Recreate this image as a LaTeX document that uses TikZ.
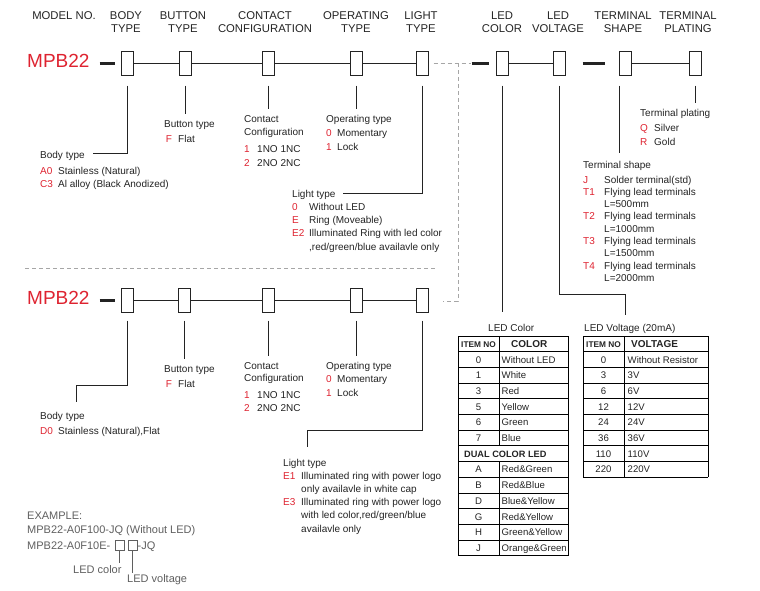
\documentclass[tikz,border=0pt]{standalone}
\usepackage{fontspec}
\setmainfont{Liberation Sans}
\usetikzlibrary{positioning,calc}
\definecolor{mpbred}{RGB}{222,35,48}
\definecolor{ink}{RGB}{35,35,35}
\definecolor{exgray}{RGB}{95,95,95}
\newcommand{\cd}[1]{\textcolor{mpbred}{#1}}
\newcommand{\hdtwo}[2]{\begin{tabular}[t]{@{}c@{}}#1\\#2\end{tabular}}

\begin{document}
\begin{tikzpicture}[
  x=1pt, y=1pt,
  font=\fontsize{10}{13}\selectfont,
  text=ink,
  hdr/.style={anchor=base, inner sep=0pt, font=\fontsize{11.3}{13}\selectfont},
  model/.style={anchor=west, inner sep=0pt, text=mpbred, font=\fontsize{19}{22}\selectfont},
  pbox/.style={draw=ink, line width=1pt, minimum width=12pt, minimum height=24pt, inner sep=0pt},
  link/.style={draw=ink, line width=0.9pt},
  heavy/.style={draw=ink, line width=3pt},
  guide/.style={draw=black!35, line width=0.8pt, dash pattern=on 4pt off 3pt},
  blk/.style={anchor=base west, inner sep=0pt},
  grid/.style={draw=black, line width=0.9pt},
  cell/.style={inner sep=0pt, anchor=base, font=\fontsize{9.6}{12}\selectfont},
  celll/.style={inner sep=0pt, anchor=base west, font=\fontsize{9.6}{12}\selectfont},
  exmp/.style={anchor=base west, inner sep=0pt, text=exgray, font=\fontsize{11}{14.7}\selectfont},
  exbox/.style={draw=exgray, line width=0.8pt, minimum width=9pt, minimum height=10pt, inner sep=0pt},
  exlink/.style={draw=exgray, line width=0.8pt}
]
\useasboundingbox (0,0) rectangle (760,-590);

% column headings
\node[hdr] (hModel) at (64,-19.8) {MODEL NO.};
\node[hdr] (hBody) at (126,-19.8) {\hdtwo{BODY}{TYPE}};
\node[hdr] (hButton) at (183,-19.8) {\hdtwo{BUTTON}{TYPE}};
\node[hdr] (hContact) at (265,-19.8) {\hdtwo{CONTACT}{CONFIGURATION}};
\node[hdr] (hOper) at (356,-19.8) {\hdtwo{OPERATING}{TYPE}};
\node[hdr] (hLight) at (421,-19.8) {\hdtwo{LIGHT}{TYPE}};
\node[hdr] (hColor) at (502,-19.8) {\hdtwo{LED}{COLOR}};
\node[hdr] (hVolt) at (558,-19.8) {\hdtwo{LED}{VOLTAGE}};
\node[hdr] (hShape) at (623,-19.8) {\hdtwo{TERMINAL}{SHAPE}};
\node[hdr] (hPlate) at (688,-19.8) {\hdtwo{TERMINAL}{PLATING}};

% first row
\node[model] (mpbA) at (27,-60.5) {MPB22};
\foreach \n/\x in {body/127,button/185,contact/268,oper/356,light/422,color/502,volt/559,shape/625,plate/695}
  \node[pbox] (a\n) at (\x,-63) {};
\draw[heavy] ([xshift=10pt]mpbA.east |- abody.west) -- ([xshift=-6pt]abody.west);
\draw[link] (abody) -- (abutton) -- (acontact) -- (aoper) -- (alight);
\draw[guide] ([xshift=5pt]alight.east) -- ([xshift=-25pt]acolor.west);
\draw[heavy] ([xshift=-24pt]acolor.west) -- ([xshift=-7pt]acolor.west);
\draw[link] (acolor) -- (avolt);
\draw[heavy] ([xshift=17pt]avolt.east) -- ([xshift=-14pt]ashape.west);
\draw[link] (ashape) -- (aplate);

% first row legends
\node[blk] (bodyA) at (40,-158) {\begin{tabular}[t]{@{}p{18pt}@{}l@{}}
  \multicolumn{2}{@{}l@{}}{Body type}\\[3pt]
  \cd{A0} & Stainless (Natural)\\
  \cd{C3} & Al alloy (Black Anodized)
\end{tabular}};
\node[blk] (buttonA) at (164,-127) {\begin{tabular}[t]{@{}p{14pt}@{}l@{}}
  \multicolumn{2}{@{}l@{}}{Button type}\\[2pt]
  \cd{\,F} & Flat
\end{tabular}};
\node[blk] (contactA) at (244,-122) {\begin{tabular}[t]{@{}p{13pt}@{}l@{}}
  \multicolumn{2}{@{}l@{}}{Contact}\\
  \multicolumn{2}{@{}l@{}}{Configuration}\\[4pt]
  \cd{1} & 1NO 1NC\\[1pt]
  \cd{2} & 2NO 2NC
\end{tabular}};
\node[blk] (operA) at (326,-122) {\begin{tabular}[t]{@{}p{11pt}@{}l@{}}
  \multicolumn{2}{@{}l@{}}{Operating type}\\[1pt]
  \cd{0} & Momentary\\[1pt]
  \cd{1} & Lock
\end{tabular}};
\node[blk, font=\fontsize{10}{13.3}\selectfont] (lightA) at (292,-197) {\begin{tabular}[t]{@{}p{17pt}@{}l@{}}
  \multicolumn{2}{@{}l@{}}{Light type}\\
  \cd{0} & Without LED\\
  \cd{E} & Ring (Moveable)\\
  \cd{E2} & Illuminated Ring with led color\\
  & ,red/green/blue availavle only
\end{tabular}};
\node[blk] (plateA) at (640,-116) {\begin{tabular}[t]{@{}p{14pt}@{}l@{}}
  \multicolumn{2}{@{}l@{}}{Terminal plating}\\[2pt]
  \cd{Q} & Silver\\[1pt]
  \cd{R} & Gold
\end{tabular}};
\node[blk, font=\fontsize{10}{12.3}\selectfont] (shapeA) at (583,-168) {\begin{tabular}[t]{@{}p{21pt}@{}l@{}}
  \multicolumn{2}{@{}l@{}}{Terminal shape}\\[2.7pt]
  \cd{J} & Solder terminal(std)\\
  \cd{T1} & Flying lead terminals\\
  & L=500mm\\
  \cd{T2} & Flying lead terminals\\
  & L=1000mm\\
  \cd{T3} & Flying lead terminals\\
  & L=1500mm\\
  \cd{T4} & Flying lead terminals\\
  & L=2000mm
\end{tabular}};

% first row leaders
\coordinate (aBodyEnd) at (93,-153);
\coordinate (aLightEnd) at (343,-193);
\coordinate (colorEnd) at (502,-312);
\coordinate (voltBend) at (625,-294);
\coordinate (voltEnd) at (625,-315);
\coordinate (termEnd) at (619.5,-153);
\draw[link] ([yshift=-10pt]abody.south) |- (aBodyEnd);
\draw[link] ([yshift=-10pt]abutton.south) -- ([yshift=4pt]abutton.south |- buttonA.north);
\draw[link] ([yshift=-10pt]acontact.south) -- ([yshift=4pt]acontact.south |- contactA.north);
\draw[link] ([yshift=-10pt]aoper.south) -- ([yshift=4pt]aoper.south |- operA.north);
\draw[link] ([yshift=-10pt]alight.south) |- (aLightEnd);
\draw[link] ([yshift=-10pt]acolor.south) -- (colorEnd);
\draw[link] ([yshift=-10pt]avolt.south) |- (voltBend) -- (voltEnd);
\draw[link] (termEnd |- ashape.south) ++(0,-10) -- (termEnd);
\draw[link] ([yshift=-10pt]aplate.south) -- ([yshift=4pt]aplate.south |- plateA.north);

% second row
\node[model] (mpbB) at (27,-297.5) {MPB22};
\foreach \n/\x in {body/127,button/184.5,contact/268,oper/356,light/422.5}
  \node[pbox] (b\n) at (\x,-300) {};
\draw[heavy] ([xshift=10pt]mpbB.east |- bbody.west) -- ([xshift=-6pt]bbody.west);
\draw[link] (bbody) -- (bbutton) -- (bcontact) -- (boper) -- (blight);

% link between the rows
\coordinate (dk) at (458,-63);
\coordinate (dkLow) at (458,-301);
\draw[guide] (dk) -- (dkLow) -- ([xshift=14pt]blight.east |- dkLow);
\draw[guide] (25,-268) -- (436,-268);

\node[blk] (bodyB) at (40,-419) {\begin{tabular}[t]{@{}p{18pt}@{}l@{}}
  \multicolumn{2}{@{}l@{}}{Body type}\\[2pt]
  \cd{D0} & Stainless (Natural),Flat
\end{tabular}};
\node[blk] (buttonB) at (164,-372) {\begin{tabular}[t]{@{}p{14pt}@{}l@{}}
  \multicolumn{2}{@{}l@{}}{Button type}\\[2pt]
  \cd{\,F} & Flat
\end{tabular}};
\node[blk] (contactB) at (244,-369) {\begin{tabular}[t]{@{}p{13pt}@{}l@{}}
  \multicolumn{2}{@{}l@{}}{Contact}\\[-0.5pt]
  \multicolumn{2}{@{}l@{}}{Configuration}\\[4pt]
  \cd{1} & 1NO 1NC\\
  \cd{2} & 2NO 2NC
\end{tabular}};
\node[blk] (operB) at (326,-369) {\begin{tabular}[t]{@{}p{11pt}@{}l@{}}
  \multicolumn{2}{@{}l@{}}{Operating type}\\
  \cd{0} & Momentary\\[1pt]
  \cd{1} & Lock
\end{tabular}};
\node[blk, font=\fontsize{10}{13.2}\selectfont] (lightB) at (283,-466) {\begin{tabular}[t]{@{}p{18pt}@{}l@{}}
  \multicolumn{2}{@{}l@{}}{Light type}\\
  \cd{E1} & Illuminated ring with power logo\\
  & only availavle in white cap\\
  \cd{E3} & Illuminated ring with power logo\\
  & with led color,red/green/blue\\
  & availavle only
\end{tabular}};

\coordinate (bBodyBend) at (76,-385);
\coordinate (bBodyEnd) at (76,-402);
\coordinate (bLightBend) at (307,-430);
\coordinate (bLightEnd) at (307,-447);
\draw[link] ([yshift=-8pt]bbody.south) |- (bBodyBend) -- (bBodyEnd);
\draw[link] ([yshift=-8pt]bbutton.south) -- ([yshift=4pt]bbutton.south |- buttonB.north);
\draw[link] ([yshift=-8pt]bcontact.south) -- ([yshift=4pt]bcontact.south |- contactB.north);
\draw[link] ([yshift=-8pt]boper.south) -- ([yshift=4pt]boper.south |- operB.north);
\draw[link] ([yshift=-8pt]blight.south) |- (bLightBend) -- (bLightEnd);

% LED colour table
\node[blk] (colorT) at (488,-331) {LED Color};
\node[cell, font=\bfseries\fontsize{8.3}{10}\selectfont] (cHead1) at (478.5,-347) {ITEM NO};
\node[celll, font=\bfseries\fontsize{10}{12}\selectfont] (cHead2) at (511,-347.3) {COLOR};
\node[celll, font=\bfseries\fontsize{9.2}{11}\selectfont] (cDual) at (464,{-336-15.7*7.5-3.4}) {DUAL COLOR LED};
\foreach \i/\code/\desc in {1/0/Without LED,2/1/White,3/3/Red,4/5/Yellow,5/6/Green,6/7/Blue,8/A/Red\&Green,9/B/Red\&Blue,10/D/Blue\&Yellow,11/G/Red\&Yellow,12/H/Green\&Yellow,13/J/Orange\&Green}{
  \node[cell] (cn\i) at (478.5,{-336-15.7*(\i+0.5)-3.5}) {\code};
  \node[celll] (cd\i) at (501.5,{-336-15.7*(\i+0.5)-3.5}) {\desc};
}
\foreach \i in {0,...,14}
  \draw[grid] (458,{-336-15.7*\i}) -- (568,{-336-15.7*\i});
\draw[grid] (458,-336) -- (458,{-336-15.7*14});
\draw[grid] (568,-336) -- (568,{-336-15.7*14});
\draw[grid] (499,-336) -- (499,{-336-15.7*7});
\draw[grid] (499,{-336-15.7*8}) -- (499,{-336-15.7*14});

% LED voltage table
\node[blk] (voltT) at (584,-331) {LED Voltage (20mA)};
\node[cell, font=\bfseries\fontsize{8.3}{10}\selectfont] (vHead1) at (603.5,-347) {ITEM NO};
\node[celll, font=\bfseries\fontsize{10}{12}\selectfont] (vHead2) at (631,-347.3) {VOLTAGE};
\foreach \i/\code/\desc in {1/0/Without Resistor,2/3/3V,3/6/6V,4/12/12V,5/24/24V,6/36/36V,7/110/110V,8/220/220V}{
  \node[cell] (vn\i) at (603.5,{-336-15.7*(\i+0.5)-3.5}) {\code};
  \node[celll] (vd\i) at (627.5,{-336-15.7*(\i+0.5)-3.5}) {\desc};
}
\foreach \i in {0,...,9}
  \draw[grid] (583,{-336-15.7*\i}) -- (708,{-336-15.7*\i});
\foreach \x in {583,624,708}
  \draw[grid] (\x,-336) -- (\x,{-336-15.7*9});

% example
\node[exmp] (exA) at (27,-519) {\begin{tabular}[t]{@{}l@{}}EXAMPLE:\\MPB22-A0F100-JQ (Without LED)\end{tabular}};
\node[exmp] (exB) at (27,-549) {MPB22-A0F10E-};
\node[exbox] (exC) at (119.5,-545) {};
\node[exbox] (exV) at (132.5,-545) {};
\node[exmp] (exJ) at (137.5,-549) {-JQ};
\node[exmp] (colLbl) at (73,-573) {LED color};
\node[exmp] (voltLbl) at (127,-582) {LED voltage};
\draw[exlink] (exC.south) -- ([yshift=2pt]exC.south |- colLbl.north);
\draw[exlink] (exV.south) -- ([yshift=1pt]exV.south |- voltLbl.north);
\end{tikzpicture}
\end{document}
